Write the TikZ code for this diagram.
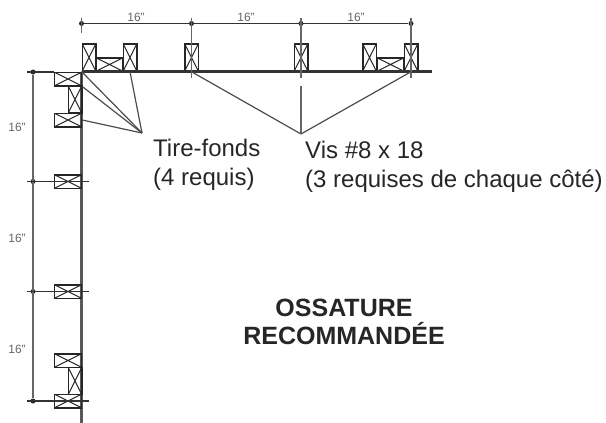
\documentclass[tikz,border=0pt]{standalone}
\usepackage{fontspec}
\setmainfont{Liberation Sans}
\begin{document}
\begin{tikzpicture}[x=1pt,y=-1pt,font=\fontsize{24}{29}\selectfont,text=black!85]

    % Define node styles
    \tikzstyle{cross_box} = [draw=black!85, line width=1.5pt, inner sep=0pt, path picture={\draw[line width=1.1pt] (path picture bounding box.north west) -- (path picture bounding box.south east) (path picture bounding box.north east) -- (path picture bounding box.south west);}]
    \tikzstyle{stud_block} = [cross_box, minimum width=13.5pt, minimum height=27pt]
    \tikzstyle{flat_block} = [cross_box, minimum width=27pt, minimum height=13.5pt]
    \tikzstyle{dim_dot} = [circle, fill=black!85, inner sep=0pt, minimum size=5pt]
    \tikzstyle{dim_label} = [text=black!60, font=\fontsize{12}{14}\selectfont]
    \tikzstyle{frame_line} = [black!65, line width=2.2pt]
    \tikzstyle{tick_line} = [black!60, line width=1.5pt]
    \tikzstyle{dim_line} = [black!80, line width=1.2pt]
    \tikzstyle{leader_line} = [black!70, line width=1.2pt]

    \useasboundingbox (0,0) rectangle (606,423);

    % Draw frame corners
    \coordinate (corner) at (81.5,71.5);
    \coordinate (top_end) at (432,71.5);
    \coordinate (left_end) at (81.5,423);
    \draw [frame_line] (corner) -- (left_end);

    % Draw nodes, top side
    \node [stud_block] (top_1) at (89,57.5) {};
    \node [flat_block] (top_2) at (109.5,64.5) {};
    \node [stud_block] (top_3) at (130,57.5) {};
    \node [stud_block] (top_4) at (191.5,57.5) {};
    \node [stud_block] (top_5) at (301,57.5) {};
    \node [stud_block] (top_6) at (369.5,57.5) {};
    \node [flat_block] (top_7) at (390.5,64.5) {};
    \node [stud_block] (top_8) at (411,57.5) {};

    % Draw nodes, left side
    \node [flat_block] (left_1) at (68,79) {};
    \node [stud_block] (left_2) at (75,99.5) {};
    \node [flat_block] (left_3) at (68,120) {};
    \node [flat_block] (left_4) at (68,181.5) {};
    \node [flat_block] (left_5) at (68,291.5) {};
    \node [flat_block] (left_6) at (68,360.5) {};
    \node [stud_block] (left_7) at (75,381) {};
    \node [flat_block] (left_8) at (68,401) {};

    \draw [black!80, line width=2.2pt] (corner) -- (top_end);

    % Draw dimensions
    \node [dim_dot] (dim_t1) at (81.5,23.5) {};
    \node [dim_dot] (dim_t2) at (191.5,23.5) {};
    \node [dim_dot] (dim_t3) at (301,23.5) {};
    \node [dim_dot] (dim_t4) at (411,23.5) {};
    \node [dim_dot] (dim_l1) at (33,72) {};
    \node [dim_dot] (dim_l2) at (33,181.5) {};
    \node [dim_dot] (dim_l3) at (33,291.5) {};
    \node [dim_dot] (dim_l4) at (33,401) {};

    \draw [dim_line] (dim_t1) -- (dim_t4);
    \draw [tick_line] (dim_l1) -- (dim_l4);

    \draw [tick_line] (dim_t1) ++(0,-6) -- ++(0,15);
    \draw [tick_line] (dim_t2) ++(0,-6) -- ++(0,60);
    \draw [tick_line] (dim_t3) ++(0,-6) -- ++(0,60);
    \draw [tick_line] (dim_t4) ++(0,-6) -- ++(0,60);
    \draw [dim_line] (dim_l1) ++(-6,0) -- ++(27,0);
    \draw [dim_line] (dim_l2) ++(-6,0) -- ++(62,0);
    \draw [dim_line] (dim_l3) ++(-6,0) -- ++(62,0);
    \draw [dim_line] (dim_l4) ++(-6,0) -- ++(62,0);

    \node [dim_label] (label_t1) at (136,17) {16"};
    \node [dim_label] (label_t2) at (246,17) {16"};
    \node [dim_label] (label_t3) at (356,17) {16"};
    \node [dim_label] (label_l1) at (17,127) {16"};
    \node [dim_label] (label_l2) at (17,238) {16"};
    \node [dim_label] (label_l3) at (17,349) {16"};

    % Draw leaders
    \coordinate (lag_point) at (142,133);
    \coordinate (screw_point) at (301,134);
    \draw [leader_line] (lag_point) -- (corner);
    \draw [leader_line] (lag_point) -- (left_1.south east);
    \draw [leader_line] (lag_point) -- (left_3.east);
    \draw [leader_line] (lag_point) -- (top_3.south);
    \draw [leader_line] (screw_point) -- (top_4.south);
    \draw [leader_line] (screw_point) -- (top_8.south);
    \draw [tick_line] (screw_point) -- ++(0,-48);

    % Draw texts
    \node [anchor=west, align=left, inner sep=0pt] (lag_text) at (153,164.5) {Tire-fonds\\(4 requis)};
    \node [anchor=west, align=left, inner sep=0pt] (screw_text) at (305,167) {Vis \#8 x 18\\(3 requises de chaque côté)};
    \node [align=center, inner sep=0pt, font=\fontsize{25}{28}\selectfont\bfseries] (title_text) at (344,322) {OSSATURE\\RECOMMANDÉE};

\end{tikzpicture}
\end{document}
